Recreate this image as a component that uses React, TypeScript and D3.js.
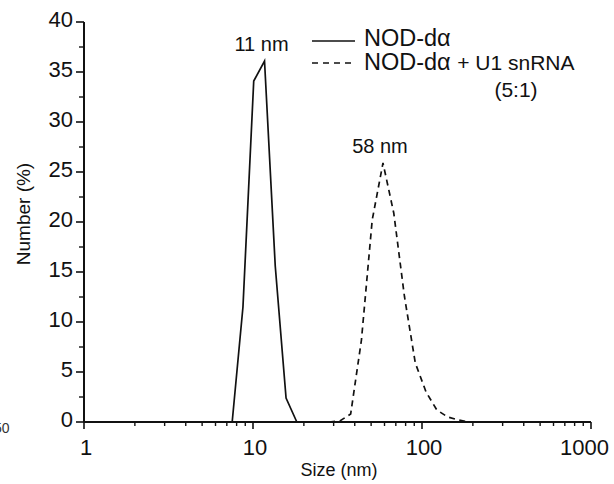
import React from "react";
import * as d3 from "d3";

const solidSize = [7.531, 8.721, 10.1, 11.7, 13.54, 15.69, 18.17];
const solidValue = [0, 11.5, 34.1, 36.1, 15.6, 2.4, 0];

const dashSize = [28.21, 32.67, 37.84, 43.82, 50.75, 58.77, 68.06, 78.82, 91.28, 105.7, 122.4, 141.8, 164.2, 190.1, 220.2];
const dashValue = [0, 0.1, 0.8, 8.2, 20.2, 25.9, 20.9, 12.5, 5.9, 3.0, 1.2, 0.5, 0.2, 0, 0];

const xTicks = [1, 10, 100, 1000];
const yTicks = [0, 5, 10, 15, 20, 25, 30, 35, 40];
const peakLabels = [
  { size: 11.7, value: 36.1, text: "11 nm" },
  { size: 58.77, value: 25.9, text: "58 nm" },
];

const W = 614;
const H = 484;
const FONT = "'Liberation Sans', Arial, sans-serif";

export default function App() {
  const x = d3.scaleLog().domain([1, 1000]).range([84, 591]);
  const y = d3.scaleLinear().domain([0, 40]).range([422, 22]);

  const line = d3
    .line<[number, number]>()
    .x((d) => x(d[0]))
    .y((d) => y(d[1]));

  const solidPts = solidSize.map((s, i) => [s, solidValue[i]] as [number, number]);
  const dashPts = dashSize.map((s, i) => [s, dashValue[i]] as [number, number]);

  const minorX: number[] = [];
  for (let p = 0; p < 3; p++) {
    for (let k = 2; k <= 9; k++) minorX.push(k * Math.pow(10, p));
  }
  const minorY: number[] = [];
  for (let v = 2.5; v < 40; v += 5) minorY.push(v);

  const y0 = y(0);
  const x0 = x(1);

  return (
    <svg
      width={W}
      height={H}
      style={{ position: "fixed", left: 0, top: 0, background: "#fff" }}
      fontFamily={FONT}
    >
      <rect x={0} y={0} width={W} height={H} fill="#fff" />
      {/* leftover cropped text */}
      <text x={-6} y={433} fontSize={14} fill="#333">50</text>

      {/* data */}
      <path d={line(solidPts) || ""} fill="none" stroke="#111" strokeWidth={1.7} strokeLinejoin="miter" />
      <path d={line(dashPts) || ""} fill="none" stroke="#111" strokeWidth={1.7} strokeDasharray="6,4.5" />

      {/* axes */}
      <line x1={x0} x2={x(1000)} y1={y0} y2={y0} stroke="#111" strokeWidth={2} />
      <line x1={x0} x2={x0} y1={y0} y2={y(40)} stroke="#111" strokeWidth={2} />
      {xTicks.map((t, i) => {
        const last = i === xTicks.length - 1;
        return (
          <g key={"xt" + t}>
            <line x1={x(t)} x2={x(t)} y1={y0} y2={y0 + 7} stroke="#111" strokeWidth={1.6} />
            <text
              x={last ? 609 : x(t) + 2}
              y={y0 + 33}
              textAnchor={last ? "end" : "middle"}
              fontSize={22}
              fill="#111"
            >
              {t}
            </text>
          </g>
        );
      })}
      {minorX.map((t) => (
        <line key={"mx" + t} x1={x(t)} x2={x(t)} y1={y0} y2={y0 + 4} stroke="#111" strokeWidth={1.4} />
      ))}
      {yTicks.map((t) => (
        <g key={"yt" + t}>
          <line x1={x0 - 8} x2={x0} y1={y(t)} y2={y(t)} stroke="#111" strokeWidth={1.6} />
          <text x={73} y={y(t) + 5} textAnchor="end" fontSize={22} fill="#111">
            {t}
          </text>
        </g>
      ))}
      {minorY.map((t) => (
        <line key={"my" + t} x1={x0 - 5} x2={x0} y1={y(t)} y2={y(t)} stroke="#111" strokeWidth={1.4} />
      ))}

      {/* axis titles */}
      <text x={339} y={476} textAnchor="middle" fontSize={18} fill="#111">
        Size (nm)
      </text>
      <text
        transform={`translate(30,214) rotate(-90)`}
        textAnchor="middle"
        fontSize={19}
        fill="#111"
      >
        Number (%)
      </text>

      {/* peak labels */}
      {peakLabels.map((p) => (
        <text key={p.text} x={x(p.size) - 3} y={y(p.value) - 10} textAnchor="middle" fontSize={20} fill="#111">
          {p.text}
        </text>
      ))}

      {/* legend */}
      <line x1={312} x2={355} y1={41} y2={41} stroke="#111" strokeWidth={1.6} />
      <text x={364} y={46} fontSize={23.5} fill="#111">
        NOD-dα
      </text>
      <line x1={312} x2={355} y1={63} y2={63} stroke="#111" strokeWidth={1.6} strokeDasharray="6,5" />
      <text x={364} y={70} fontSize={23.5} fill="#111">
        NOD-dα <tspan fontSize={21}>+ U1 snRNA</tspan>
      </text>
      <text x={516} y={97} textAnchor="middle" fontSize={21} fill="#111">
        (5:1)
      </text>
    </svg>
  );
}
